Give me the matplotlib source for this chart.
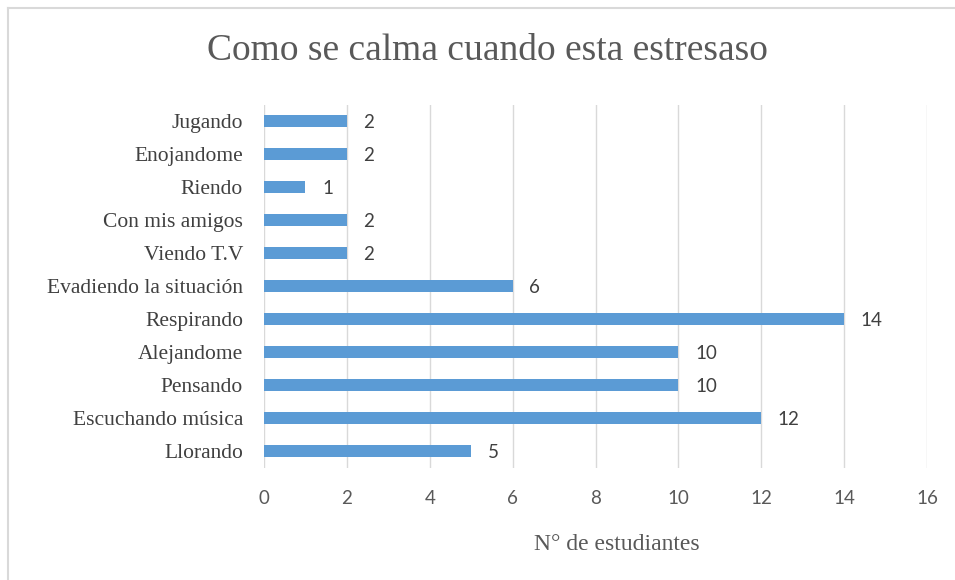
import matplotlib
matplotlib.use('Agg')
import matplotlib.pyplot as plt
from matplotlib.lines import Line2D

# survey answers, listed bottom to top
categorias = ['Llorando', 'Escuchando música', 'Pensando', 'Alejandome',
              'Respirando', 'Evadiendo la situación', 'Viendo T.V',
              'Con mis amigos', 'Riendo', 'Enojandome', 'Jugando']
estudiantes = [5, 12, 10, 10, 14, 6, 2, 2, 1, 2, 2]
ticks_x = [0, 2, 4, 6, 8, 10, 12, 14, 16]

BAR = '#5B9BD5'
GRID = '#D9D9D9'
TXT = '#595959'
SERIF = 'Liberation Serif'
SANS = 'Lato'

fig = plt.figure(figsize=(9.55, 5.8), dpi=100)
ax = fig.add_axes([264 / 955, 1 - 467.5 / 580, 663 / 955, 363 / 580])

pos = list(range(len(categorias)))
ax.barh(pos, estudiantes, height=0.38, color=BAR, zorder=3)

for y, v in zip(pos, estudiantes):
    ax.annotate(str(v), (v, y), xytext=(12, -1), textcoords='offset points',
                ha='left', va='center', fontsize=13.5, family=SANS,
                color='#404040')

ax.set_xlim(0, 16)
ax.set_ylim(-0.5, len(categorias) - 0.5)
ax.set_xticks(ticks_x)
ax.set_xticklabels([str(t) for t in ticks_x], family=SANS, fontsize=13.5,
                   color=TXT)
ax.set_yticks(pos)
ax.set_yticklabels(categorias, fontsize=15.5, color='#404040')
for lbl in ax.get_yticklabels():
    lbl.set_family(SERIF)
ax.tick_params(axis='both', length=0)
ax.tick_params(axis='x', pad=16)
ax.tick_params(axis='y', pad=15)
ax.grid(axis='x', color=GRID, linewidth=1, zorder=0)
for s in ax.spines.values():
    s.set_visible(False)

fig.text(487 / 955, 1 - 51 / 580, 'Como se calma cuando esta estresaso',
         ha='center', va='center', family=SERIF, fontsize=27, color=TXT)
fig.text(617 / 955, 1 - 545 / 580, 'N° de estudiantes', ha='center',
         va='center', family=SERIF, fontsize=17, color=TXT)

# chart frame, only top and left edges fall inside the image
fig.add_artist(Line2D([8 / 955, 8 / 955], [0, 1 - 8 / 580], color='#D9D9D9',
                      linewidth=1.5, transform=fig.transFigure))
fig.add_artist(Line2D([8 / 955, 1], [1 - 8 / 580, 1 - 8 / 580],
                      color='#D9D9D9', linewidth=1.5,
                      transform=fig.transFigure))

fig.savefig('out.png', dpi=100)
